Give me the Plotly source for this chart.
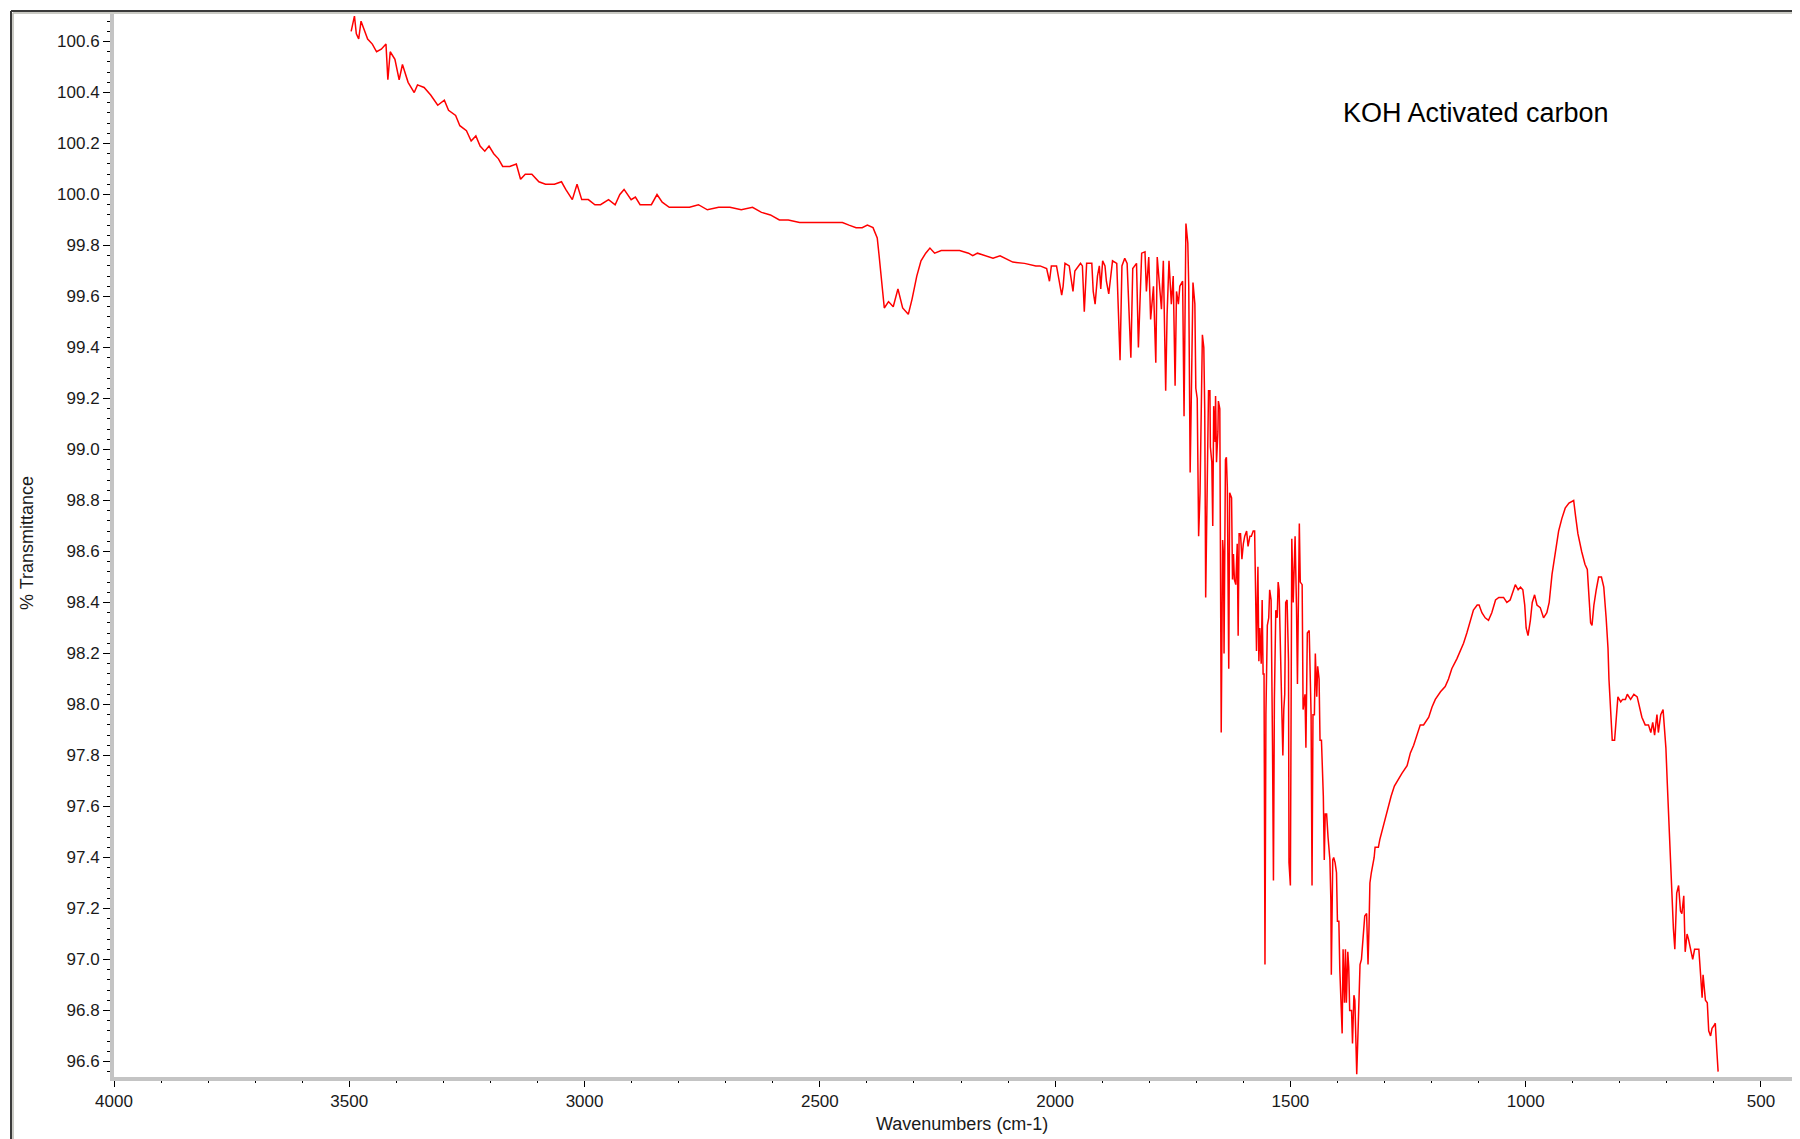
import plotly.graph_objects as go

# FTIR spectrum (cm-1, %T), high to low wavenumber
wavenumber = [
    3496, 3492, 3489, 3485, 3480, 3475, 3467, 3461, 3451, 3442, 3432, 3422, 3418, 3413, 3403,
    3394, 3387, 3375, 3362, 3355, 3341, 3327, 3312, 3298, 3289, 3274, 3265, 3251, 3241, 3231,
    3222, 3212, 3203, 3193, 3183, 3174, 3159, 3145, 3136, 3126, 3112, 3097, 3083, 3064, 3049,
    3040, 3026, 3016, 3006, 2992, 2978, 2966, 2949, 2935, 2925, 2916, 2901, 2892, 2882, 2858,
    2846, 2835, 2820, 2801, 2777, 2758, 2739, 2715, 2691, 2667, 2643, 2624, 2605, 2586, 2567,
    2543, 2519, 2495, 2471, 2452, 2438, 2423, 2410, 2399, 2387, 2378, 2374, 2370, 2366, 2363,
    2354, 2344, 2334, 2324, 2312, 2304, 2294, 2285, 2275, 2266, 2256, 2242, 2223, 2203, 2184,
    2175, 2165, 2146, 2132, 2117, 2090, 2065, 2041,
    2032, 2018, 2012, 2008, 1997, 1990, 1986, 1983, 1979, 1970, 1962, 1958, 1951, 1946, 1942,
    1938, 1933, 1922, 1919, 1915, 1910, 1906, 1903, 1899, 1894, 1891, 1886, 1882, 1878, 1869,
    1865, 1862, 1858, 1852, 1847, 1842, 1839, 1835, 1830, 1827, 1823, 1820, 1816, 1809, 1806,
    1801, 1797, 1791, 1786, 1783, 1779, 1774, 1770, 1765, 1762, 1758, 1753, 1749, 1745, 1742,
    1738, 1735, 1729, 1726, 1722, 1718, 1716, 1713, 1710,
    1707, 1703, 1701, 1698, 1695, 1692, 1689, 1687, 1684, 1682, 1680, 1677, 1674, 1671, 1670,
    1667, 1665, 1663, 1660, 1659, 1657, 1654, 1653, 1650, 1648, 1647, 1644, 1642, 1641, 1638,
    1636, 1634, 1631, 1629, 1625, 1623, 1621, 1619, 1616, 1613, 1611, 1609, 1606, 1603, 1600,
    1597, 1593, 1590, 1586, 1583, 1579, 1576, 1572, 1569, 1567, 1565, 1562, 1560, 1558,
    1556, 1554, 1552, 1549, 1546, 1544, 1541, 1538, 1536, 1534, 1531, 1528, 1526, 1524, 1521,
    1518, 1516, 1514, 1512, 1510, 1507, 1504, 1503, 1500, 1499, 1497, 1494, 1490, 1487, 1485,
    1481, 1479, 1475, 1473, 1469, 1467, 1464, 1460, 1456, 1454, 1452, 1449, 1447, 1444, 1442,
    1439, 1437, 1434, 1430, 1428, 1426, 1423, 1420, 1418, 1416, 1414, 1413, 1410, 1408, 1405,
    1402, 1400, 1397, 1395, 1392, 1390, 1388, 1385, 1383, 1381, 1378, 1376, 1374, 1370, 1368,
    1365, 1363, 1361, 1359, 1357, 1354, 1352, 1349, 1347, 1345, 1342, 1338, 1335, 1333, 1331,
    1328, 1324, 1322, 1320, 1317, 1313, 1310,
    1291, 1286, 1279, 1270, 1263, 1252, 1245, 1238, 1231, 1224, 1217, 1206, 1199, 1192, 1181,
    1171, 1164, 1157, 1146, 1139, 1132, 1125, 1118, 1111, 1103, 1099, 1093, 1086, 1079, 1072,
    1064, 1057, 1047, 1040, 1033, 1025, 1022, 1016, 1011, 1006, 1002, 999, 995, 990, 986,
    981, 976, 969, 962, 955, 950, 944, 937, 930, 923, 916, 908, 898, 894, 889,
    881, 874, 869, 866, 862, 859, 855, 850, 845, 839, 834, 829, 825, 823, 820,
    816, 811, 808, 804, 798, 794, 788, 784, 777, 770, 763, 758, 753, 746, 739,
    734, 730, 726, 721, 718, 713, 708, 705, 702, 699, 696, 693, 689, 686, 683,
    679, 675, 671, 668, 664, 661, 657, 654, 650, 645, 641, 632, 629, 625,
    623, 618, 614, 611, 607, 604, 600, 597, 594, 591,
]

transmittance = [
    100.64, 100.67, 100.70, 100.63, 100.61, 100.68, 100.64, 100.61, 100.59, 100.56, 100.57, 100.59, 100.45, 100.56, 100.53,
    100.45, 100.51, 100.44, 100.40, 100.43, 100.42, 100.39, 100.35, 100.37, 100.33, 100.31, 100.27, 100.25, 100.21, 100.23,
    100.19, 100.17, 100.19, 100.16, 100.14, 100.11, 100.11, 100.12, 100.06, 100.08, 100.08, 100.05, 100.04, 100.04, 100.05,
    100.02, 99.98, 100.04, 99.98, 99.98, 99.96, 99.96, 99.98, 99.96, 100.00, 100.02, 99.98, 99.99, 99.96, 99.96,
    100.00, 99.97, 99.95, 99.95, 99.95, 99.96, 99.94, 99.95, 99.95, 99.94, 99.95, 99.93, 99.92, 99.90, 99.90,
    99.89, 99.89, 99.89, 99.89, 99.89, 99.88, 99.87, 99.87, 99.88, 99.87, 99.83, 99.76, 99.68, 99.60, 99.555,
    99.58, 99.56, 99.63, 99.555, 99.53, 99.59, 99.68, 99.74, 99.77, 99.79, 99.77, 99.78, 99.78, 99.78, 99.77,
    99.76, 99.77, 99.76, 99.75, 99.76, 99.735, 99.73, 99.72,
    99.72, 99.71, 99.66, 99.72, 99.72, 99.64, 99.605, 99.64, 99.73, 99.72, 99.62, 99.70, 99.72, 99.73, 99.72,
    99.54, 99.73, 99.73, 99.62, 99.57, 99.68, 99.72, 99.63, 99.74, 99.72, 99.66, 99.61, 99.69, 99.74, 99.73,
    99.52, 99.35, 99.72, 99.75, 99.73, 99.52, 99.36, 99.71, 99.72, 99.73, 99.40, 99.53, 99.77, 99.775, 99.62,
    99.755, 99.51, 99.64, 99.34, 99.755, 99.66, 99.55, 99.74, 99.23, 99.53, 99.74, 99.57, 99.68, 99.25, 99.62,
    99.57, 99.64, 99.66, 99.13, 99.886, 99.81, 99.64, 98.91, 99.27,
    99.655, 99.57, 99.24, 99.20, 98.66, 98.83, 99.33, 99.45, 99.40, 99.15, 98.42, 98.93, 99.23, 99.23, 99.01,
    98.95, 98.70, 99.17, 99.03, 99.21, 98.95, 99.07, 99.19, 99.16, 98.31, 97.89, 98.645, 98.58, 98.20, 98.96,
    98.97, 98.85, 98.14, 98.83, 98.81, 98.49, 98.59, 98.49, 98.47, 98.63, 98.27, 98.67, 98.67, 98.57, 98.63,
    98.66, 98.68, 98.62, 98.66, 98.66, 98.68, 98.68, 98.21, 98.54, 98.17, 98.30, 98.16, 98.41, 98.12,
    98.12, 96.98, 97.96, 98.31, 98.34, 98.45, 98.41, 97.84, 97.31, 98.02, 98.37, 98.34, 98.48, 98.45, 98.17,
    98.03, 97.80, 97.98, 98.04, 98.40, 98.41, 98.17, 97.38, 97.29, 98.17, 98.65, 98.40, 98.66, 98.38, 98.08,
    98.71, 98.48, 98.47, 97.98, 98.04, 97.83, 98.28, 98.29, 97.96, 97.29, 97.96, 97.96, 98.20, 98.03, 98.15,
    98.10, 97.86, 97.86, 97.64, 97.39, 97.57, 97.57, 97.48, 97.43, 97.39, 97.23, 96.94, 97.39, 97.40, 97.38,
    97.34, 97.15, 97.15, 96.96, 96.79, 96.71, 97.04, 96.83, 97.04, 96.83, 97.03, 96.97, 96.80, 96.80, 96.67,
    96.86, 96.84, 96.63, 96.55, 96.67, 96.94, 96.98, 97.00, 97.06, 97.10, 97.17, 97.18, 96.98, 97.12, 97.30,
    97.34, 97.38, 97.40, 97.44, 97.44, 97.44, 97.47,
    97.61, 97.64, 97.68, 97.71, 97.73, 97.76, 97.81, 97.84, 97.88, 97.92, 97.92, 97.95, 97.99, 98.02, 98.05,
    98.07, 98.10, 98.14, 98.18, 98.21, 98.24, 98.28, 98.33, 98.37, 98.39, 98.39, 98.36, 98.34, 98.33, 98.36,
    98.41, 98.42, 98.42, 98.40, 98.41, 98.45, 98.47, 98.45, 98.46, 98.45, 98.39, 98.30, 98.27, 98.33, 98.40,
    98.43, 98.39, 98.38, 98.34, 98.36, 98.40, 98.51, 98.60, 98.68, 98.73, 98.77, 98.79, 98.80, 98.74, 98.67,
    98.60, 98.55, 98.53, 98.43, 98.32, 98.31, 98.39, 98.45, 98.50, 98.50, 98.46, 98.34, 98.22, 98.10, 97.98,
    97.86, 97.86, 97.92, 98.03, 98.01, 98.02, 98.02, 98.04, 98.02, 98.04, 98.03, 97.99, 97.95, 97.92, 97.92,
    97.89, 97.93, 97.88, 97.96, 97.89, 97.96, 97.98, 97.90, 97.83, 97.69, 97.56, 97.40, 97.26, 97.12, 97.04,
    97.26, 97.29, 97.19, 97.18, 97.25, 97.03, 97.10, 97.08, 97.04, 97.00, 97.04, 97.04, 96.96, 96.85,
    96.94, 96.84, 96.83, 96.72, 96.70, 96.73, 96.74, 96.75, 96.65, 96.56,
]

x_ticks = [4000, 3500, 3000, 2500, 2000, 1500, 1000, 500]
y_ticks = [96.6, 96.8, 97.0, 97.2, 97.4, 97.6, 97.8, 98.0, 98.2, 98.4,
           98.6, 98.8, 99.0, 99.2, 99.4, 99.6, 99.8, 100.0, 100.2, 100.4, 100.6]
sample_name = "KOH Activated carbon"

FONT = "Liberation Sans, Arial, sans-serif"

# the page body has an 8px margin, so the figure is laid out in page pixels
# and shrunk by that offset
PAGE_W, PAGE_H = 1800, 1139
BODY = 8
W, H = PAGE_W - BODY, PAGE_H - BODY
PLOT_LEFT, PLOT_TOP, PLOT_BOTTOM = 114, 14, 1077   # page pixels
ML, MT = PLOT_LEFT - BODY, PLOT_TOP - BODY
MR, MB = 0, PAGE_H - PLOT_BOTTOM
PW, PH = W - ML - MR, H - MT - MB


def px_x(x):
    """page pixel column -> paper x"""
    return (x - PLOT_LEFT) / PW


def px_y(y):
    """page pixel row -> paper y"""
    return (PLOT_BOTTOM - y) / PH


fig = go.Figure(go.Scatter(
    x=wavenumber,
    y=transmittance,
    mode="lines",
    line=dict(color="#ff0000", width=1.5),
    hovertemplate="%{x} cm-1<br>%{y:.2f} %T<extra></extra>",
))

axis_common = dict(
    showline=True,
    linecolor="#c4c4c4",
    linewidth=4,
    ticks="outside",
    tickcolor="#000000",
    tickwidth=1,
    showgrid=False,
    zeroline=False,
    mirror=False,
    tickfont=dict(family=FONT, size=17, color="#1a1a1a"),
)

fig.update_xaxes(
    range=[4000, 417],
    tickvals=x_ticks,
    ticktext=[str(v) for v in x_ticks],
    ticklen=6,
    minor=dict(dtick=100, tick0=0, ticks="outside", ticklen=2, tickcolor="#000000"),
    **axis_common,
)
fig.update_yaxes(
    range=[96.539, 100.708],
    tickvals=y_ticks,
    ticktext=[f"{v:.1f}" for v in y_ticks],
    ticklen=7,
    minor=dict(dtick=0.04, tick0=0, ticks="outside", ticklen=3, tickcolor="#000000"),
    **axis_common,
)

# window-style frame at the top and left edge
frame = [
    dict(x0=11, x1=11, y0=PAGE_H, y1=11, color="#3a3a3a", w=2),
    dict(x0=11, x1=PAGE_W, y0=11, y1=11, color="#3a3a3a", w=2),
    dict(x0=13, x1=13, y0=PAGE_H, y1=13, color="#b8b8b0", w=1.5),
    dict(x0=13, x1=PAGE_W, y0=13, y1=13, color="#b8b8b0", w=1.5),
]
for f in frame:
    fig.add_shape(type="line", xref="paper", yref="paper",
                  x0=px_x(f["x0"]), x1=px_x(f["x1"]), y0=px_y(f["y0"]), y1=px_y(f["y1"]),
                  line=dict(color=f["color"], width=f["w"]))

fig.add_annotation(
    text=sample_name, xref="paper", yref="paper",
    x=px_x(1341), y=px_y(113), xanchor="left", yanchor="middle",
    showarrow=False, font=dict(family=FONT, size=27, color="#000000"),
)
fig.add_annotation(
    text="Wavenumbers (cm-1)", xref="paper", yref="paper",
    x=px_x(962), y=px_y(1124), xanchor="center", yanchor="middle",
    showarrow=False, font=dict(family=FONT, size=18, color="#1a1a1a"),
)
fig.add_annotation(
    text="% Transmittance", xref="paper", yref="paper",
    x=px_x(27), y=px_y(543), xanchor="center", yanchor="middle", textangle=-90,
    showarrow=False, font=dict(family=FONT, size=18, color="#1a1a1a"),
)

fig.update_layout(
    width=W,
    height=H,
    margin=dict(l=ML, r=MR, t=MT, b=MB),
    paper_bgcolor="#ffffff",
    plot_bgcolor="#ffffff",
    showlegend=False,
)

fig.write_html("out.html")
